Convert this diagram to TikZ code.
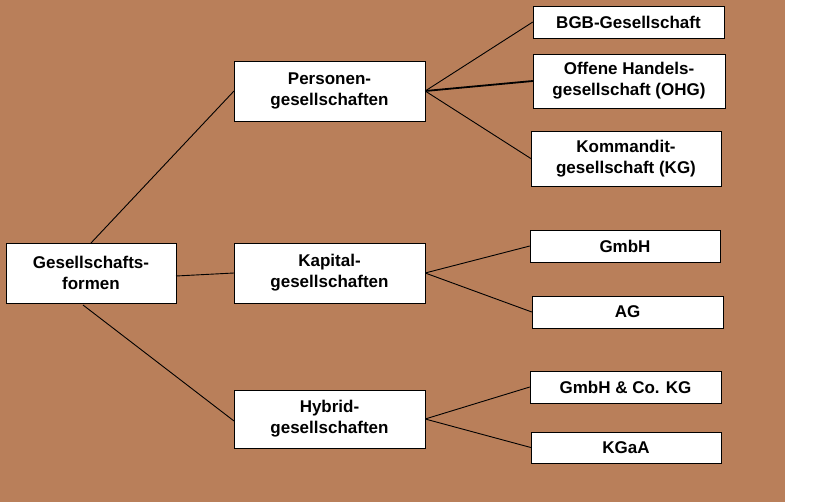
\documentclass[tikz,border=0pt]{standalone}
\usepackage{fontspec}
\setmainfont{Liberation Sans}
\definecolor{bg}{HTML}{B97F5A}
\begin{document}
\begin{tikzpicture}[x=1pt,y=-1pt,
  bx/.style={draw=black,fill=white,font=\bfseries\fontsize{17}{21}\selectfont,align=center,inner sep=0pt},
  ln/.style={draw=black,line width=0.9pt}]
\useasboundingbox (0,0) rectangle (819,502);
\fill[bg] (0,0) rectangle (785,502);
\newcommand\bxat[6]{\node[bx,minimum width=#4-#2,minimum height=#5-#3] (#1) at ({(#2+#4)/2},{(#3+#5)/2}) {#6};}
\bxat{g}{6}{243}{176}{303}{Gesellschafts-\\formen}
\bxat{p}{234}{61}{425}{121}{Personen-\\gesellschaften}
\bxat{k}{234}{243}{425}{303}{Kapital-\\gesellschaften}
\bxat{h}{234}{390}{425}{448}{Hybrid-\\gesellschaften}
\bxat{bgb}{533}{6}{724}{38}{BGB-Gesellschaft}
\bxat{ohg}{533}{54}{725}{108}{Offene Handels-\\gesellschaft (OHG)}
\bxat{kg}{531}{131}{721}{186}{Kommandit-\\gesellschaft (KG)}
\bxat{gmbh}{530}{230}{720}{262}{GmbH}
\bxat{ag}{532}{296}{723}{328}{AG}
\bxat{co}{530}{371}{721}{403}{GmbH \& Co. KG}
\bxat{kgaa}{531}{432}{721}{463}{KGaA}
\coordinate (g1) at (91,243); \coordinate (p1) at (234,91);
\coordinate (g2) at (176,276); \coordinate (k2) at (234,273);
\coordinate (g3) at (83,305); \coordinate (h3) at (234,421);
\draw[ln] (g1) -- (p1);
\draw[ln] (g2) -- (k2);
\draw[ln] (g3) -- (h3);
\draw[ln] (p.east) -- (bgb.west);
\draw[line width=1.8pt] (p.east) -- (ohg.west);
\draw[ln] (p.east) -- (kg.west);
\draw[ln] (k.east) -- (gmbh.west);
\draw[ln] (k.east) -- (ag.west);
\draw[ln] (h.east) -- (co.west);
\draw[ln] (h.east) -- (kgaa.west);
\end{tikzpicture}
\end{document}
